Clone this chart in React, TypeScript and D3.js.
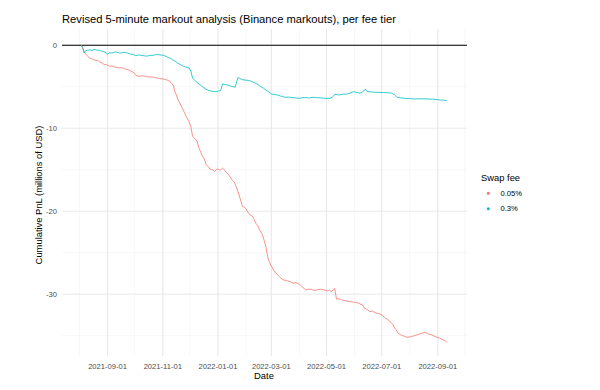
import React from "react";
import * as d3 from "d3";

// series: date, cumulative PnL (millions USD)
const redDates = [
  "2021-08-03","2021-08-04","2021-08-06","2021-08-07","2021-08-09","2021-08-12","2021-08-14","2021-08-16","2021-08-19","2021-08-21","2021-08-23","2021-08-26","2021-08-28",
  "2021-08-31","2021-09-03","2021-09-06","2021-09-08","2021-09-11","2021-09-14","2021-09-17","2021-09-20","2021-09-24","2021-09-27","2021-09-30","2021-10-02","2021-10-06","2021-10-09","2021-10-11","2021-10-14","2021-10-17",
  "2021-10-20","2021-10-22","2021-10-25","2021-10-28","2021-11-01","2021-11-03","2021-11-06","2021-11-08","2021-11-11","2021-11-13","2021-11-14","2021-11-16","2021-11-18","2021-11-21","2021-11-23","2021-11-25","2021-11-27",
  "2021-11-30","2021-12-02","2021-12-04","2021-12-07","2021-12-09","2021-12-11","2021-12-13","2021-12-15","2021-12-17","2021-12-19","2021-12-21","2021-12-23","2021-12-26","2021-12-28","2021-12-30","2022-01-01",
  "2022-01-03","2022-01-06","2022-01-08","2022-01-10","2022-01-12","2022-01-14","2022-01-17","2022-01-19","2022-01-21","2022-01-23","2022-01-25","2022-01-28","2022-01-30","2022-02-01","2022-02-03","2022-02-05",
  "2022-02-08","2022-02-10","2022-02-12","2022-02-14","2022-02-16","2022-02-19","2022-02-21","2022-02-23","2022-02-25","2022-02-27","2022-03-01","2022-03-03","2022-03-05","2022-03-09","2022-03-11","2022-03-14",
  "2022-03-16","2022-03-19","2022-03-22","2022-03-25","2022-03-28","2022-04-01","2022-04-03","2022-04-05","2022-04-08","2022-04-11","2022-04-14","2022-04-17","2022-04-20","2022-04-24","2022-04-27","2022-04-30","2022-05-02",
  "2022-05-04","2022-05-06","2022-05-09","2022-05-10","2022-05-12","2022-05-15","2022-05-18","2022-05-22","2022-05-27","2022-05-30","2022-06-02","2022-06-05","2022-06-07","2022-06-10","2022-06-12","2022-06-15","2022-06-18",
  "2022-06-21","2022-06-23","2022-06-26","2022-06-29","2022-07-01","2022-07-04","2022-07-07","2022-07-10","2022-07-13","2022-07-15","2022-07-17","2022-07-19","2022-07-22","2022-07-24","2022-07-27","2022-07-29","2022-08-01","2022-08-03",
  "2022-08-06","2022-08-09","2022-08-11","2022-08-14","2022-08-16","2022-08-18","2022-08-20","2022-08-22","2022-08-25","2022-08-27","2022-08-30","2022-09-01","2022-09-03","2022-09-05","2022-09-07","2022-09-09","2022-09-11"
];
const redValues = [
  0,-0.3,-0.72,-0.9,-1.2,-1.53,-1.6,-1.7,-1.85,-1.8,-2.0,-2.15,-2.3,
  -2.35,-2.53,-2.5,-2.6,-2.65,-2.73,-2.7,-2.85,-2.95,-3.13,-3.3,-3.6,-3.75,-3.68,-3.7,-3.78,-3.82,
  -3.8,-3.85,-3.92,-4.02,-4.05,-4.1,-4.2,-4.3,-4.6,-4.9,-5.5,-6.0,-6.6,-7.2,-7.7,-8.1,-8.6,
  -9.2,-9.8,-11.0,-11.3,-11.6,-12.4,-12.9,-13.4,-13.7,-14.4,-14.6,-14.9,-15.0,-15.2,-15.0,-14.9,
  -15.1,-14.8,-15.0,-15.3,-15.5,-15.8,-16.3,-16.5,-17.0,-17.6,-18.3,-19.4,-19.5,-19.7,-20.1,-20.4,
  -20.6,-21.0,-21.5,-21.7,-22.25,-22.8,-23.5,-24.3,-25.5,-26.2,-26.6,-27.0,-27.3,-27.8,-28.0,-28.28,
  -28.3,-28.4,-28.5,-28.67,-28.6,-28.8,-29.0,-29.2,-29.48,-29.4,-29.4,-29.55,-29.5,-29.4,-29.45,-29.55,-29.6,
  -29.5,-29.68,-29.45,-29.3,-30.6,-30.55,-30.7,-30.8,-30.89,-30.95,-31.0,-31.05,-31.17,-31.3,-31.7,-31.85,-32.1,
  -32.05,-32.2,-32.3,-32.37,-32.5,-32.8,-33.0,-33.3,-33.6,-34.0,-34.3,-34.7,-34.9,-35.0,-35.1,-35.2,-35.15,-35.1,
  -35.0,-34.9,-34.85,-34.7,-34.65,-34.6,-34.7,-34.8,-34.9,-35.0,-35.15,-35.2,-35.3,-35.4,-35.5,-35.6,-35.8
];

const tealDates = [
  "2021-08-03","2021-08-05","2021-08-06","2021-08-08","2021-08-10","2021-08-12","2021-08-15","2021-08-17","2021-08-20","2021-08-23","2021-08-25","2021-08-27","2021-08-30","2021-09-01",
  "2021-09-03","2021-09-06","2021-09-08","2021-09-10","2021-09-13","2021-09-15","2021-09-18","2021-09-21","2021-09-24","2021-09-26","2021-09-29","2021-10-02","2021-10-05","2021-10-08","2021-10-12","2021-10-15",
  "2021-10-18","2021-10-22","2021-10-25","2021-10-28","2021-11-01","2021-11-03","2021-11-05","2021-11-08","2021-11-10","2021-11-12","2021-11-15","2021-11-17","2021-11-20","2021-11-23","2021-11-26","2021-11-30",
  "2021-12-02","2021-12-04","2021-12-07","2021-12-09","2021-12-12","2021-12-15","2021-12-18","2021-12-22","2021-12-26","2021-12-30","2022-01-02","2022-01-04","2022-01-06","2022-01-09","2022-01-12","2022-01-16","2022-01-20",
  "2022-01-23","2022-01-25","2022-01-28","2022-02-01","2022-02-05","2022-02-08","2022-02-10","2022-02-13","2022-02-16","2022-02-20","2022-02-23","2022-02-26","2022-03-01","2022-03-05","2022-03-08","2022-03-12","2022-03-16",
  "2022-03-20","2022-03-24","2022-03-28","2022-04-01","2022-04-04","2022-04-08","2022-04-12","2022-04-16","2022-04-20","2022-04-25","2022-04-30","2022-05-05","2022-05-08","2022-05-10","2022-05-14","2022-05-17","2022-05-20","2022-05-23",
  "2022-05-27","2022-05-31","2022-06-04","2022-06-07","2022-06-10","2022-06-13","2022-06-15","2022-06-17","2022-06-20","2022-06-22","2022-06-27","2022-07-03","2022-07-08","2022-07-12","2022-07-15","2022-07-18","2022-07-22","2022-07-27",
  "2022-08-01","2022-08-05","2022-08-10","2022-08-16","2022-08-21","2022-08-27","2022-09-01","2022-09-04","2022-09-08","2022-09-11"
];
const tealValues = [
  0,-0.4,-0.93,-0.65,-0.6,-0.55,-0.62,-0.5,-0.58,-0.6,-0.68,-0.75,-0.85,-1.13,
  -0.9,-0.93,-0.85,-0.8,-0.9,-0.95,-0.88,-0.85,-0.98,-1.05,-1.1,-1.25,-1.18,-1.2,-1.28,-1.3,
  -1.22,-1.2,-1.1,-1.15,-1.2,-1.28,-1.35,-1.53,-1.6,-1.77,-1.95,-2.1,-2.3,-2.5,-2.6,-2.73,
  -3.1,-3.98,-4.3,-4.5,-4.75,-5.0,-5.25,-5.47,-5.55,-5.6,-5.5,-5.45,-4.66,-4.75,-4.8,-4.95,-5.06,
  -3.9,-4.0,-4.15,-4.2,-4.27,-4.4,-4.5,-4.65,-4.9,-5.15,-5.39,-5.6,-5.87,-5.95,-6.0,-6.15,-6.27,
  -6.25,-6.3,-6.35,-6.39,-6.33,-6.3,-6.35,-6.27,-6.3,-6.35,-6.4,-6.39,-6.2,-5.9,-5.98,-5.95,-5.88,-5.9,
  -5.75,-5.6,-5.7,-5.78,-5.6,-5.3,-5.55,-5.6,-5.62,-5.66,-5.68,-5.7,-5.72,-5.78,-5.95,-6.27,-6.35,-6.4,
  -6.42,-6.47,-6.46,-6.45,-6.48,-6.5,-6.55,-6.6,-6.62,-6.67
];

const feeLabels = ["0.05%", "0.3%"];
const feeColors = ["#F8766D", "#00BFC4"];
const yTicks = [0, -10, -20, -30];
const yMinor = [-5, -15, -25, -35];
const xTickLabels = ["2021-09-01","2021-11-01","2022-01-01","2022-03-01","2022-05-01","2022-07-01","2022-09-01"];

const W = 600, H = 390;
const panel = { left: 62, right: 467, top: 29, bottom: 356 };

const parse = d3.timeParse("%Y-%m-%d");

export default function App() {
  const x = d3.scaleTime()
    .domain([new Date(2021, 6, 12, 15), new Date(2022, 9, 3, 6)])
    .range([panel.left, panel.right]);
  const y = d3.scaleLinear().domain([-37.45, 1.96]).range([panel.bottom, panel.top]);

  const series = [
    { dates: redDates, values: redValues },
    { dates: tealDates, values: tealValues },
  ];

  const line = d3.line<[Date, number]>()
    .x(d => x(d[0]))
    .y(d => y(d[1]));

  const months = d3.timeMonth.range(new Date(2021, 6, 1), new Date(2022, 10, 1))
    .filter(d => x(d) >= panel.left && x(d) <= panel.right);
  const majorTicks = xTickLabels.map(s => parse(s) as Date);

  const font = "'Liberation Sans', Arial, Helvetica, sans-serif";

  return (
    <div style={{ position: "fixed", left: 0, top: 0, background: "#fff" }}>
      <svg width={W} height={H} style={{ display: "block", fontFamily: font }}>
        <rect width={W} height={H} fill="#fff" />
        {/* grid */}
        {yMinor.map(v => (
          <line key={"ym" + v} x1={panel.left} x2={panel.right} y1={y(v)} y2={y(v)} stroke="#f1f1f1" strokeWidth={0.6} />
        ))}
        {months.map(d => (
          <line key={"xm" + d.getTime()} x1={x(d)} x2={x(d)} y1={panel.top} y2={panel.bottom} stroke="#f1f1f1" strokeWidth={0.6} />
        ))}
        {yTicks.map(v => (
          <line key={"y" + v} x1={panel.left} x2={panel.right} y1={y(v)} y2={y(v)} stroke="#e6e6e6" strokeWidth={0.9} />
        ))}
        {majorTicks.map(d => (
          <line key={"x" + d.getTime()} x1={x(d)} x2={x(d)} y1={panel.top} y2={panel.bottom} stroke="#e6e6e6" strokeWidth={0.9} />
        ))}

        {/* zero line */}
        <line x1={panel.left} x2={panel.right} y1={y(0)} y2={y(0)} stroke="#000" strokeWidth={1.1} />

        {/* series */}
        {series.map((s, i) => (
          <path
            key={i}
            d={line(s.dates.map((dt, j) => [parse(dt) as Date, s.values[j]])) || ""}
            fill="none"
            stroke={feeColors[i]}
            strokeWidth={0.8}
          />
        ))}

        {/* y tick labels */}
        {yTicks.map(v => (
          <text key={"yl" + v} x={57} y={y(v)} dy="0.35em" textAnchor="end" fontSize={7.6} fill="#4d4d4d">
            {v}
          </text>
        ))}
        {/* x tick labels */}
        {majorTicks.map((d, i) => (
          <text key={"xl" + i} x={x(d)} y={368.5} textAnchor="middle" fontSize={7.6} fill="#4d4d4d">
            {xTickLabels[i]}
          </text>
        ))}

        {/* titles */}
        <text x={62} y={23} fontSize={11.2} fill="#000">
          Revised 5-minute markout analysis (Binance markouts), per fee tier
        </text>
        <text x={264} y={379} textAnchor="middle" fontSize={9.4} fill="#000">Date</text>
        <text transform={`translate(41.5,${195}) rotate(-90)`} textAnchor="middle" fontSize={9.4} fill="#000">
          Cumulative PnL (millions of USD)
        </text>

        {/* legend */}
        <text x={481} y={180.5} fontSize={9.4} fill="#000">Swap fee</text>
        {feeLabels.map((lab, i) => (
          <g key={lab} transform={`translate(0,${193.3 + i * 15.4})`}>
            <circle cx={488.3} cy={0} r={1.5} fill={feeColors[i]} />
            <text x={500.5} y={0} dy="0.35em" fontSize={7.6} fill="#000">{lab}</text>
          </g>
        ))}
      </svg>
    </div>
  );
}
